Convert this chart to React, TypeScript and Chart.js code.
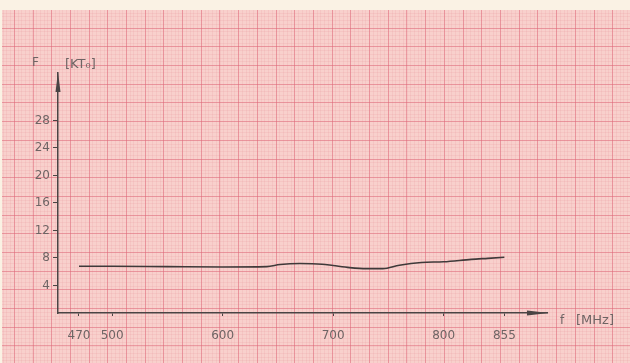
import React, { useEffect, useRef } from "react";
import { Chart, registerables } from "chart.js";

Chart.register(...registerables);

const freqMHz = [470, 500, 550, 600, 640, 652, 670, 690, 700, 715, 730, 745, 760, 780, 800, 825, 840, 855];
const noiseKT0 = [6.8, 6.8, 6.75, 6.7, 6.75, 7.05, 7.2, 7.1, 6.9, 6.6, 6.45, 6.45, 6.95, 7.35, 7.45, 7.8, 7.95, 8.1];
const yTickValues = [4, 8, 12, 16, 20, 24, 28];
const xTickValues = [470, 500, 600, 700, 800, 855];

const FONT = "'DejaVu Sans', sans-serif";
const INK = "#4a4444";
const LABEL = "#6e6464";

const paperPlugin = {
  id: "paper",
  beforeDraw(chart: any) {
    const { ctx, width, height } = chart;
    ctx.save();
    ctx.fillStyle = "#faf2e4";
    ctx.fillRect(0, 0, width, height);
    ctx.fillStyle = "#f8d0cc";
    ctx.fillRect(2, 10, width - 2, height - 10);
    const major = 18.7;
    const minor = major / 5;
    ctx.lineWidth = 1;
    ctx.strokeStyle = "rgba(232,140,150,0.16)";
    ctx.beginPath();
    for (let x = 13.8 - major; x < width; x += minor) {
      if (x < 2) continue;
      ctx.moveTo(Math.round(x) + 0.5, 10);
      ctx.lineTo(Math.round(x) + 0.5, height);
    }
    for (let y = 8.9; y < height; y += minor) {
      if (y < 10) continue;
      ctx.moveTo(2, Math.round(y) + 0.5);
      ctx.lineTo(width, Math.round(y) + 0.5);
    }
    ctx.stroke();
    ctx.strokeStyle = "rgba(222,100,118,0.5)";
    ctx.beginPath();
    for (let x = 13.8; x < width; x += major) {
      ctx.moveTo(Math.round(x) + 0.5, 10);
      ctx.lineTo(Math.round(x) + 0.5, height);
    }
    for (let y = 8.9 + major; y < height; y += major) {
      ctx.moveTo(2, Math.round(y) + 0.5);
      ctx.lineTo(width, Math.round(y) + 0.5);
    }
    ctx.stroke();
    ctx.restore();
  },
};

const decorPlugin = {
  id: "decor",
  afterDraw(chart: any) {
    const { ctx, chartArea } = chart;
    const { left, top, right, bottom } = chartArea;
    ctx.save();
    ctx.fillStyle = INK;
    ctx.beginPath();
    ctx.moveTo(left, top - 1);
    ctx.lineTo(left - 2.5, top + 19);
    ctx.lineTo(left + 2.5, top + 19);
    ctx.closePath();
    ctx.fill();
    ctx.beginPath();
    ctx.moveTo(right + 2, bottom);
    ctx.lineTo(right - 20, bottom - 2.5);
    ctx.lineTo(right - 20, bottom + 2.5);
    ctx.closePath();
    ctx.fill();
    ctx.fillStyle = LABEL;
    ctx.textBaseline = "alphabetic";
    ctx.textAlign = "left";
    ctx.font = `12px ${FONT}`;
    ctx.fillText("F", 32, 66);
    ctx.fillText("f", 560, 324);
    ctx.font = `13px ${FONT}`;
    ctx.fillText("[KT₀]", 65, 68);
    ctx.fillText("[MHz]", 576, 324);
    ctx.restore();
  },
};

export default function App() {
  const ref = useRef<HTMLCanvasElement | null>(null);
  useEffect(() => {
    if (!ref.current) return;
    const pts = freqMHz.map((f, i) => ({ x: f, y: noiseKT0[i] }));
    const chart = new Chart(ref.current, {
      type: "line",
      data: {
        datasets: [
          {
            data: pts,
            borderColor: "#3f3a3a",
            borderWidth: 1.6,
            pointRadius: 0,
            tension: 0.35,
            cubicInterpolationMode: "monotone",
            fill: false,
          },
        ],
      },
      options: {
        animation: false,
        responsive: false,
        events: [],
        layout: { padding: { top: 73, right: 83, left: 0, bottom: 0 } },
        plugins: { legend: { display: false }, tooltip: { enabled: false } },
        scales: {
          x: {
            type: "linear",
            min: 451,
            max: 893.6,
            afterBuildTicks: (s: any) => {
              s.ticks = xTickValues.map((v) => ({ value: v }));
            },
            afterFit: (s: any) => {
              s.height = 50;
            },
            grid: { display: true, drawOnChartArea: false, drawTicks: true, tickLength: 3, color: INK, lineWidth: 1 },
            border: { display: true, color: INK, width: 1.5 },
            ticks: {
              color: LABEL,
              font: { family: FONT, size: 12 },
              padding: 13,
              maxRotation: 0,
              autoSkip: false,
              callback: (v: any) => String(v),
            },
          },
          y: {
            type: "linear",
            min: 0,
            max: 34.9,
            afterBuildTicks: (s: any) => {
              s.ticks = yTickValues.map((v) => ({ value: v }));
            },
            afterFit: (s: any) => {
              s.width = 58;
            },
            grid: { display: true, drawOnChartArea: false, drawTicks: true, tickLength: 5, color: INK, lineWidth: 1 },
            border: { display: true, color: INK, width: 1.5 },
            ticks: {
              color: LABEL,
              font: { family: FONT, size: 12 },
              padding: 3,
              autoSkip: false,
              callback: (v: any) => String(v),
            },
          },
        },
      },
      plugins: [paperPlugin, decorPlugin],
    } as any);
    return () => chart.destroy();
  }, []);
  return (
    <div style={{ position: "fixed", left: 0, top: 0, width: 630, height: 363 }}>
      <canvas ref={ref} width={630} height={363} style={{ display: "block", width: 630, height: 363 }} />
    </div>
  );
}
